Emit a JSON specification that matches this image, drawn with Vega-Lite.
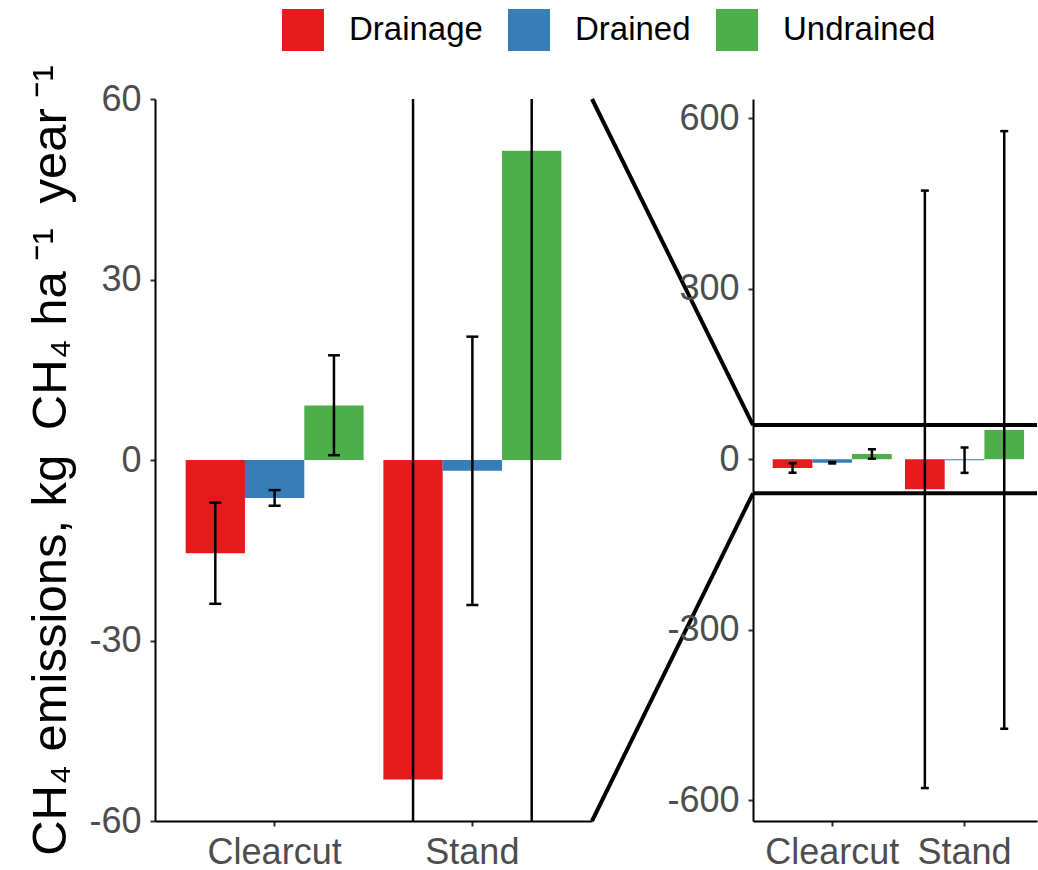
{
  "$schema": "https://vega.github.io/schema/vega-lite/v6.json",
  "background": "white",
  "padding": {"left": 26, "top": 9, "right": 0, "bottom": 0},
  "bounds": "flush",
  "spacing": 0,
  "config": {
    "font": "Liberation Sans",
    "view": {"stroke": null},
    "axis": {
      "grid": false,
      "domainColor": "black",
      "domainWidth": 2,
      "tickColor": "#333333",
      "tickWidth": 2,
      "tickSize": 5,
      "labelColor": "#4D4D4D",
      "labelFontSize": 36,
      "labelPadding": 9,
      "titleFontSize": 49,
      "titleFontWeight": "normal",
      "titleColor": "black"
    }
  },
  "datasets": {
    "em": [
      {"site": "Clearcut", "treatment": "Drainage", "mean": -15.5, "lo": -23.9, "hi": -7.1},
      {"site": "Clearcut", "treatment": "Drained", "mean": -6.3, "lo": -7.6, "hi": -5.0},
      {"site": "Clearcut", "treatment": "Undrained", "mean": 9.05, "lo": 0.8, "hi": 17.4},
      {"site": "Stand", "treatment": "Drainage", "mean": -53.1, "lo": -578.6, "hi": 472.4},
      {"site": "Stand", "treatment": "Drained", "mean": -1.8, "lo": -24.1, "hi": 20.5},
      {"site": "Stand", "treatment": "Undrained", "mean": 51.4, "lo": -474.2, "hi": 577.0}
    ],
    "zoomlines": [
      {"edge": "upper", "px": 0, "py": 633.5},
      {"edge": "upper", "px": 1, "py": 60},
      {"edge": "lower", "px": 0, "py": -636.5},
      {"edge": "lower", "px": 1, "py": -60}
    ],
    "band": [
      {"bound": 60},
      {"bound": -60}
    ]
  },
  "hconcat": [
    {
      "width": 437,
      "height": 722,
      "data": {"name": "em"},
      "encoding": {
        "x": {
          "field": "site", "type": "nominal",
          "scale": {"paddingInner": 0.1, "paddingOuter": 0.155},
          "axis": {"title": null, "labelAngle": 0}
        },
        "xOffset": {
          "field": "treatment", "type": "nominal",
          "scale": {"domain": ["Drainage", "Drained", "Undrained"], "paddingInner": 0, "paddingOuter": 0}
        }
      },
      "layer": [
        {
          "mark": {"type": "bar", "clip": true},
          "encoding": {
            "y": {
              "field": "mean", "type": "quantitative",
              "scale": {"domain": [-60, 60], "nice": false, "zero": false},
              "axis": {
                "title": "CH₄ emissions,  kg\u2002CH₄ ha\u2009⁻¹\u2002year\u2009⁻¹",
                "titlePadding": 13,
                "values": [-60, -30, 0, 30, 60],
                "labelExpr": "'' + datum.value"
              }
            },
            "color": {
              "field": "treatment", "type": "nominal",
              "scale": {"domain": ["Drainage", "Drained", "Undrained"], "range": ["#E41A1C", "#377EB8", "#4DAF4A"]},
              "legend": {
                "orient": "none",
                "legendX": 127,
                "legendY": -90,
                "direction": "horizontal",
                "title": null,
                "symbolType": "square",
                "symbolSize": 1764,
                "symbolStrokeWidth": 0,
                "symbolOpacity": 1,
                "labelFontSize": 33,
                "labelColor": "black",
                "labelOffset": 25,
                "columnPadding": 25
              }
            }
          }
        },
        {
          "mark": {"type": "rule", "clip": true, "color": "black", "strokeWidth": 2.5},
          "encoding": {
            "y": {"field": "lo", "type": "quantitative"},
            "y2": {"field": "hi"}
          }
        },
        {
          "mark": {"type": "tick", "clip": true, "color": "black", "size": 12, "thickness": 2.5, "opacity": 1},
          "encoding": {"y": {"field": "lo", "type": "quantitative"}}
        },
        {
          "mark": {"type": "tick", "clip": true, "color": "black", "size": 12, "thickness": 2.5, "opacity": 1},
          "encoding": {"y": {"field": "hi", "type": "quantitative"}}
        }
      ]
    },
    {
      "width": 161,
      "height": 722,
      "data": {"name": "zoomlines"},
      "mark": {"type": "line", "color": "black", "strokeWidth": 4},
      "encoding": {
        "x": {"field": "px", "type": "quantitative", "scale": {"domain": [0, 1], "nice": false, "zero": false}, "axis": null},
        "y": {"field": "py", "type": "quantitative", "scale": {"domain": [-636.5, 633.5], "nice": false, "zero": false}, "axis": null},
        "detail": {"field": "edge", "type": "nominal"}
      }
    },
    {
      "width": 284,
      "height": 722,
      "layer": [
        {
          "data": {"name": "em"},
          "encoding": {
            "x": {
              "field": "site", "type": "nominal",
              "scale": {"paddingInner": 0.1, "paddingOuter": 0.1233, "align": 0.604},
              "axis": {"title": null, "labelAngle": 0}
            },
            "xOffset": {
              "field": "treatment", "type": "nominal",
              "scale": {"domain": ["Drainage", "Drained", "Undrained"], "paddingInner": 0, "paddingOuter": 0}
            }
          },
          "layer": [
            {
              "mark": {"type": "bar", "clip": true},
              "encoding": {
                "y": {
                  "field": "mean", "type": "quantitative",
                  "scale": {"domain": [-636.5, 633.5], "nice": false, "zero": false},
                  "axis": {
                    "title": null,
                    "values": [-600, -300, 0, 300, 600],
                    "labelExpr": "'' + datum.value"
                  }
                },
                "color": {"field": "treatment", "type": "nominal"}
              }
            },
            {
              "mark": {"type": "rule", "clip": true, "color": "black", "strokeWidth": 2.5},
              "encoding": {
                "y": {"field": "lo", "type": "quantitative"},
                "y2": {"field": "hi"}
              }
            },
            {
              "mark": {"type": "tick", "clip": true, "color": "black", "size": 8, "thickness": 2.5, "opacity": 1},
              "encoding": {"y": {"field": "lo", "type": "quantitative"}}
            },
            {
              "mark": {"type": "tick", "clip": true, "color": "black", "size": 8, "thickness": 2.5, "opacity": 1},
              "encoding": {"y": {"field": "hi", "type": "quantitative"}}
            }
          ]
        },
        {
          "data": {"name": "band"},
          "mark": {"type": "rule", "color": "black", "strokeWidth": 4},
          "encoding": {
            "y": {"field": "bound", "type": "quantitative"}
          }
        }
      ]
    }
  ],
  "resolve": {"scale": {"x": "independent", "y": "independent", "xOffset": "independent"}}
}
